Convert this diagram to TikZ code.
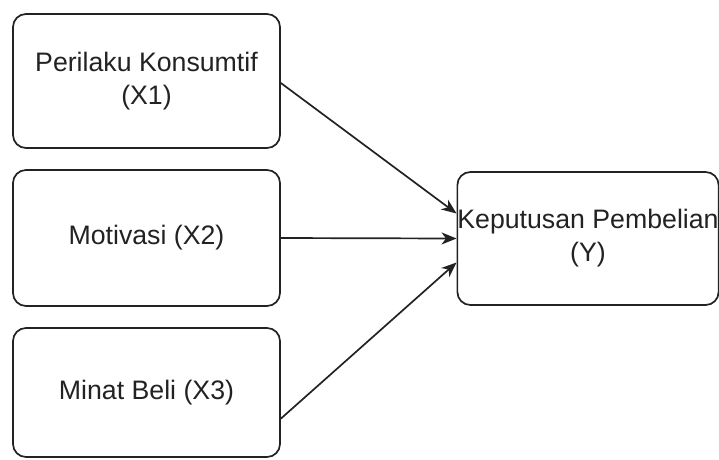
\documentclass[tikz,border=0pt]{standalone}
\usepackage{fontspec}
\setmainfont{Liberation Sans}
\usetikzlibrary{arrows.meta,positioning,calc}
\definecolor{inkline}{HTML}{222222}
\tikzset{
  varbox/.style={draw=inkline, line width=1.7pt, fill=white, rounded corners=13pt,
                 align=center, text=inkline, inner sep=0pt,
                 font=\fontsize{26.7}{33}\selectfont},
  arr/.style={-{Stealth[length=15pt, width=12pt, inset=4.5pt]}, line width=1.7pt, color=inkline}}
\begin{document}
\begin{tikzpicture}[x=1pt, y=-1pt]
    \useasboundingbox (0,0) rectangle (719,459);
    \node[varbox, minimum width=267pt, minimum height=134pt] (x1) at (146.5,81)
      {Perilaku Konsumtif\\(X1)};
    \node[varbox, minimum width=267pt, minimum height=136pt] (x2) at (146.5,238)
      {Motivasi (X2)};
    \node[varbox, minimum width=267pt, minimum height=129pt] (x3) at (146.5,392.5)
      {Minat Beli (X3)};
    \node[varbox, minimum width=260pt, minimum height=133pt] (yy) at (588,238.5)
      {Keputusan Pembelian\\(Y)};
    \coordinate (x3out) at ($(x3.south east)!0.3!(x3.north east)$);
    \draw[arr] ([yshift=-2pt]x1.east) -- ([yshift=25pt]yy.west);
    \draw[arr] (x2.east) -- (yy.west);
    \draw[arr] (x3out) -- ([yshift=-24pt]yy.west);
\end{tikzpicture}
\end{document}
